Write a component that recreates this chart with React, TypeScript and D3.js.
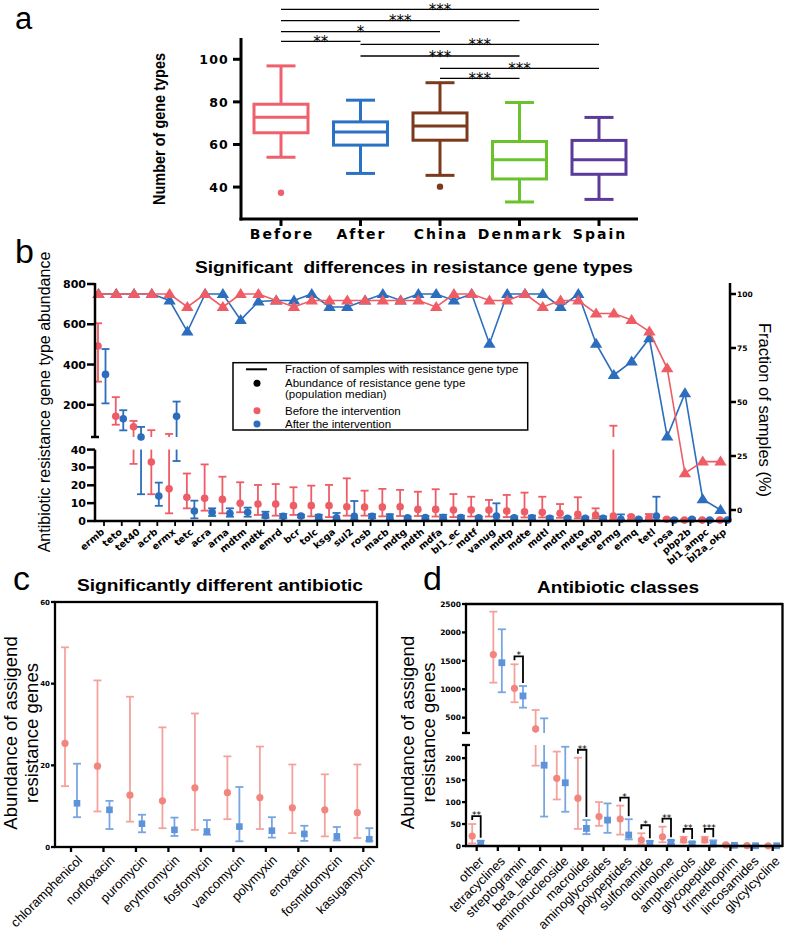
import React from "react";
import * as d3 from "d3";

const W = 787;
const H = 935;
const SANS = "Liberation Sans, Arial, sans-serif";
const WIDE = "DejaVu Sans, sans-serif";

// ---------------- Panel a ----------------
const groupsA = ["Before", "After", "China", "Denmark", "Spain"];
const whiskerLowA = [54, 46.4, 45.5, 33, 34.2];
const q1A = [65.5, 59.7, 62, 43.8, 46];
const medianA = [72.8, 65.9, 68.7, 52.8, 52.8];
const q3A = [78.9, 70.6, 74.8, 61.4, 61.9];
const whiskerHighA = [96.9, 80.8, 89, 79.7, 72.7];
const outliersA: number[][] = [[37.3], [], [40.2], [], []];
const colorsA = ["#f0606c", "#2a73c4", "#7b3a1c", "#6ac22c", "#5b3a9b"];
const yTicksA = [40, 60, 80, 100];
const sigPairsA = [[0, 4], [0, 3], [0, 2], [0, 1], [1, 4], [1, 3], [2, 4], [2, 3]];
const sigLabelsA = ["***", "***", "*", "**", "***", "***", "***", "***"];
const sigLevelYA = [9.3, 20.7, 31.7, 41.3, 44.3, 56, 68.3, 78.3];

// ---------------- Panel b ----------------
const genesB = ["ermb", "teto", "tet40", "acrb", "ermx", "tetc", "acra", "arna", "mdtm", "mdtk", "emrd", "bcr", "tolc", "ksga", "sul2", "rosb", "macb", "mdtg", "mdth", "mdfa", "bl1_ec", "mdtf", "vanug", "mdtp", "mdte", "mdtl", "mdtn", "mdto", "tetpb", "ermg", "ermq", "tetl", "rosa", "pbp2b", "bl1_ampc", "bl2a_okp"];
const fracBefore = [100, 100, 100, 100, 100, 94, 100, 94, 100, 100, 97, 94, 97, 97, 97, 97, 97, 97, 97, 94, 100, 100, 97, 97, 100, 94, 97, 97, 91, 91, 88, 82.6, 65.6, 17, 22.4, 22.4];
const fracAfter = [100, 100, 100, 100, 97, 82.6, 100, 100, 88, 96.5, 97, 97, 100, 94, 94, 97, 100, 97, 100, 100, 97, 100, 77, 100, 100, 100, 94, 100, 77, 62.5, 68.7, 79.5, 34, 54, 5, 0];
const medBefore = [492, 143, 91, 33, 18, 13.3, 12.7, 12.1, 9.9, 9.5, 9.5, 8.6, 8.6, 8.6, 8.0, 7.8, 7.8, 8.0, 6.5, 6.5, 6.2, 6.2, 6.2, 5.6, 5.2, 4.9, 4.3, 3.7, 3.4, 2.8, 2.4, 2.0, 1.0, 0.5, 0.5, 0.5];
const hiBefore = [605, 238, 120, 74, 55, 26.6, 31.7, 24.8, 21.7, 20.2, 20.7, 18.9, 19.8, 20.2, 23.9, 17, 18, 17.4, 16.4, 17.8, 15.1, 13.6, 11.8, 14.6, 15.9, 13.6, 9.5, 13.3, 7.1, 96, 3, 3.9, 1.5, 1, 1, 1];
const loBefore = [315, 101, 32, 15, 4.3, 7.1, 5.8, 4.3, 4.9, 3.4, 3, 3.4, 2.6, 2.2, 3, 3, 2.6, 2.8, 2.8, 2.5, 2.2, 2.5, 2.5, 2.2, 2, 2, 1.8, 1.5, 1.5, 1, 1, 1, 0.5, 0.3, 0.3, 0.3];
const medAfter = [351, 131, 40, 14, 143, 5.6, 4.9, 4.3, 4.9, 3, 2.6, 2.8, 2.2, 1.8, 2.6, 2.6, 2.2, 1.8, 2, 2, 2, 1.8, 2.8, 1.8, 1.8, 1.5, 1.5, 1.5, 1.5, 1, 1, 2.8, 0.5, 1, 0.5, 0.5];
const hiAfter = [477, 173, 90, 21.5, 216, 11.4, 7.1, 7.1, 7.5, 5.2, 4, 3.5, 3.5, 4.5, 11.2, 3.8, 3.8, 2.5, 2.8, 3.5, 3, 2.5, 9.9, 2.5, 3, 2.5, 2.2, 2.2, 2.5, 3.7, 1.5, 13.6, 1, 1.5, 1, 1];
const loAfter = [207, 73, 15, 8.5, 33.6, 1.5, 2.8, 2.4, 2.4, 1.8, 1.5, 2, 1, 0.8, 1, 1.5, 1, 1, 1, 1, 1, 1, 0.5, 1, 1, 0.8, 0.8, 0.8, 0.8, 0.5, 0.5, 0.5, 0.3, 0.5, 0.3, 0.3];
const upperTicksB = [200, 400, 600, 800];
const lowerTicksB = [0, 10, 20, 30, 40];
const rightTicksB = [0, 25, 50, 75, 100];
const legendB = ["Fraction of samples with resistance gene type", "Abundance of resistance gene type", "(population median)", "Before the intervention", "After the intervention"];

// ---------------- Panel c ----------------
const antibiotics = ["chloramphenicol", "norfloxacin", "puromycin", "erythromycin", "fosfomycin", "vancomycin", "polymyxin", "enoxacin", "fosmidomycin", "kasugamycin"];
const cBeforeMed = [25.4, 19.8, 12.7, 11.3, 14.5, 13.3, 12.1, 9.6, 9.1, 8.4];
const cBeforeHi = [48.9, 40.8, 36.8, 29.3, 32.7, 22.2, 24.6, 20.2, 17.8, 20.2];
const cBeforeLo = [14.9, 8.7, 6.2, 4.6, 4.2, 6.8, 4.4, 3.4, 2.6, 2.2];
const cAfterMed = [10.7, 9.1, 5.7, 4.2, 3.8, 5.0, 4.0, 3.2, 2.6, 1.9];
const cAfterHi = [20.4, 11.3, 7.9, 7.2, 6.6, 14.7, 7.3, 5.2, 4.9, 4.6];
const cAfterLo = [7.3, 4.4, 3.6, 2.7, 3.0, 1.4, 2.3, 1.5, 1.6, 1.5];
const yTicksC = [0, 20, 40, 60];

// ---------------- Panel d ----------------
const classes = ["other", "tetracyclines", "streptogramin", "beta_lactam", "aminonucleoside", "macrolide", "aminoglycosides", "polypeptides", "sulfonamide", "quinolone", "amphenicols", "glycopeptide", "trimethoprim", "lincosamides", "glycylcycline"];
const dBeforeMed = [22.8, 1610, 1017, 301, 154, 109, 67, 61.5, 13.7, 21, 13.7, 13.7, 2.5, 0.8, 0.5];
const dBeforeHi = [50, 2365, 1439, 635, 215, 201, 100, 92, 29, 44, 21, 21, 4, 1.5, 1];
const dBeforeLo = [6, 1116, 771, 183, 106, 39, 46, 26, 4, 8.5, 8, 8, 1, 0.3, 0.2];
const dAfterMed = [6, 1467, 882, 184, 144, 40, 59, 25, 6, 8.5, 5, 4.5, 1.5, 0.5, 0.5];
const dAfterHi = [12, 2055, 1057, 488, 226, 59, 97, 61, 11, 13, 9, 13, 3, 1, 1];
const dAfterLo = [1, 947, 676, 67, 78, 27, 30, 15, 1, 4, 1, 1, 0.5, 0.2, 0.2];
const sigIdxD = [0, 2, 5, 7, 8, 9, 10, 11];
const sigLblD = ["**", "*", "**", "*", "*", "**", "**", "***"];
const upperTicksD = [500, 1000, 1500, 2000, 2500];
const lowerTicksD = [0, 50, 100, 150, 200];

type Scale = (v: number) => number;

function yBroken(v: number, split: number, yU: Scale, yL: Scale) {
  return v >= split ? yU(v) : yL(v);
}
function brokenSegs(lo: number, hi: number, split: number, yU: Scale, yL: Scale): [number, number][] {
  if (hi <= split) return [[yL(lo), yL(hi)]];
  if (lo >= split) return [[yU(lo), yU(hi)]];
  return [[yL(lo), yL(split)], [yU(split), yU(hi)]];
}

function ErrBar(props: { x: number; segs: [number, number][]; yLo: number; yHi: number; color: string; cap?: number; sw?: number }) {
  const { x, segs, yLo, yHi, color } = props;
  const cap = props.cap ?? 8;
  const sw = props.sw ?? 1.8;
  return (
    <g stroke={color} strokeWidth={sw}>
      {segs.map((s, i) => (
        <line key={i} x1={x} x2={x} y1={s[0]} y2={s[1]} />
      ))}
      <line x1={x - cap / 2} x2={x + cap / 2} y1={yLo} y2={yLo} />
      <line x1={x - cap / 2} x2={x + cap / 2} y1={yHi} y2={yHi} />
    </g>
  );
}

function PanelA() {
  const x = d3.scalePoint<string>().domain(groupsA).range([281, 599]);
  const y = d3.scaleLinear().domain([25, 110]).range([219, 38]);
  const boxW = 54;
  const capW = 29;
  return (
    <g>
      <text x={15} y={29} fontFamily={SANS} fontSize={31}>a</text>
      {sigPairsA.map((p, i) => {
        const x1 = x(groupsA[p[0]])!;
        const x2 = x(groupsA[p[1]])!;
        const ly = sigLevelYA[i];
        return (
          <g key={i}>
            <line x1={x1} x2={x2} y1={ly} y2={ly} stroke="#000" strokeWidth={1.3} />
            <text x={(x1 + x2) / 2} y={ly + 5.5} textAnchor="middle" fontFamily={WIDE} fontSize={15}>{sigLabelsA[i]}</text>
          </g>
        );
      })}
      {groupsA.map((g, i) => {
        const cx = x(g)!;
        const c = colorsA[i];
        return (
          <g key={g} stroke={c} strokeWidth={3} fill="none">
            <line x1={cx} x2={cx} y1={y(whiskerHighA[i])} y2={y(q3A[i])} />
            <line x1={cx} x2={cx} y1={y(q1A[i])} y2={y(whiskerLowA[i])} />
            <line x1={cx - capW / 2} x2={cx + capW / 2} y1={y(whiskerHighA[i])} y2={y(whiskerHighA[i])} />
            <line x1={cx - capW / 2} x2={cx + capW / 2} y1={y(whiskerLowA[i])} y2={y(whiskerLowA[i])} />
            <rect x={cx - boxW / 2} y={y(q3A[i])} width={boxW} height={y(q1A[i]) - y(q3A[i])} />
            <line x1={cx - boxW / 2} x2={cx + boxW / 2} y1={y(medianA[i])} y2={y(medianA[i])} />
            {outliersA[i].map((o, k) => (
              <circle key={k} cx={cx} cy={y(o)} r={3.2} fill={c} stroke="none" />
            ))}
          </g>
        );
      })}
      <g stroke="#000" strokeWidth={3}>
        <line x1={241} x2={241} y1={38} y2={220.5} />
        <line x1={239.5} x2={638} y1={219} y2={219} />
        {yTicksA.map((t) => (
          <line key={t} x1={233} x2={241} y1={y(t)} y2={y(t)} />
        ))}
        {groupsA.map((g) => (
          <line key={g} x1={x(g)!} x2={x(g)!} y1={219} y2={226} />
        ))}
      </g>
      {yTicksA.map((t) => (
        <text key={t} x={229} y={y(t) + 4.8} textAnchor="end" fontFamily={WIDE} fontWeight="bold" fontSize={12.5} letterSpacing={1.2}>{t}</text>
      ))}
      {groupsA.map((g) => (
        <text key={g} x={x(g)! + 1} y={238.5} textAnchor="middle" fontFamily={WIDE} fontWeight="bold" fontSize={14} letterSpacing={2}>{g}</text>
      ))}
      <text transform="translate(165,129) rotate(-90)" textAnchor="middle" fontFamily={SANS} fontWeight="bold" fontSize={17} textLength={152} lengthAdjust="spacingAndGlyphs">Number of gene types</text>
    </g>
  );
}

function tri(x: number, y: number) {
  return `M${x},${y - 6} L${x + 6.2},${y + 4} L${x - 6.2},${y + 4} Z`;
}

function PanelB() {
  const xt = d3.scalePoint<string>().domain(genesB).range([104, 726]);
  const yU = d3.scaleLinear().domain([40, 800]).range([437, 284]);
  const yL = d3.scaleLinear().domain([0, 40]).range([521, 449.6]);
  const yR = d3.scaleLinear().domain([0, 100]).range([510, 294]);
  const red = "#ee5c66";
  const blue = "#2c6dbd";
  const xTri = (g: string) => xt(g)! - 5.5;
  const lineGen = (vals: number[]) =>
    d3.line<number>().x((_, i) => xTri(genesB[i])).y((v) => yR(v))(vals) || "";
  return (
    <g>
      <text x={15} y={263} fontFamily={SANS} fontSize={34}>b</text>
      <text x={414} y={273} textAnchor="middle" fontFamily={SANS} fontWeight="bold" fontSize={17} textLength={438} lengthAdjust="spacingAndGlyphs" style={{ whiteSpace: "pre" }}>{"Significant  differences in resistance gene types"}</text>
      <path d={lineGen(fracAfter)} fill="none" stroke={blue} strokeWidth={1.6} />
      {fracAfter.map((v, i) => (
        <path key={"ta" + i} d={tri(xTri(genesB[i]), yR(v))} fill={blue} />
      ))}
      <path d={lineGen(fracBefore)} fill="none" stroke={red} strokeWidth={1.6} />
      {fracBefore.map((v, i) => (
        <path key={"tb" + i} d={tri(xTri(genesB[i]), yR(v))} fill={red} />
      ))}
      {genesB.map((g, i) => {
        const xr = xt(g)! - 6;
        return (
          <g key={"rb" + g}>
            <ErrBar x={xr} segs={brokenSegs(loBefore[i], hiBefore[i], 40, yU, yL)} yLo={yBroken(loBefore[i], 40, yU, yL)} yHi={yBroken(hiBefore[i], 40, yU, yL)} color={red} />
            <circle cx={xr} cy={yBroken(medBefore[i], 40, yU, yL)} r={3.8} fill={red} />
          </g>
        );
      })}
      {genesB.map((g, i) => {
        const xb = xt(g)! + 1.5;
        return (
          <g key={"bb" + g}>
            <ErrBar x={xb} segs={brokenSegs(loAfter[i], hiAfter[i], 40, yU, yL)} yLo={yBroken(loAfter[i], 40, yU, yL)} yHi={yBroken(hiAfter[i], 40, yU, yL)} color={blue} />
            <circle cx={xb} cy={yBroken(medAfter[i], 40, yU, yL)} r={3.8} fill={blue} />
          </g>
        );
      })}
      <g stroke="#000" strokeWidth={2.5}>
        <line x1={95} x2={95} y1={283} y2={437} />
        <line x1={91} x2={99} y1={437} y2={437} />
        <line x1={95} x2={95} y1={449.6} y2={522} />
        <line x1={94} x2={731} y1={521} y2={521} />
        <line x1={730} x2={730} y1={283} y2={522} />
        {upperTicksB.map((t) => (
          <line key={t} x1={87} x2={95} y1={yU(t)} y2={yU(t)} />
        ))}
        {lowerTicksB.map((t) => (
          <line key={t} x1={87} x2={95} y1={yL(t)} y2={yL(t)} />
        ))}
        {rightTicksB.map((t) => (
          <line key={t} x1={730} x2={736} y1={yR(t)} y2={yR(t)} />
        ))}
        {genesB.map((g) => (
          <line key={g} x1={xt(g)!} x2={xt(g)!} y1={521} y2={526} strokeWidth={1.8} />
        ))}
      </g>
      {upperTicksB.map((t) => (
        <text key={t} x={86} y={yU(t) + 4} textAnchor="end" fontFamily={WIDE} fontWeight="bold" fontSize={11}>{t}</text>
      ))}
      {lowerTicksB.map((t) => (
        <text key={t} x={86} y={yL(t) + 4} textAnchor="end" fontFamily={WIDE} fontWeight="bold" fontSize={11}>{t}</text>
      ))}
      {rightTicksB.map((t) => (
        <text key={t} x={737} y={yR(t) + 3} fontFamily={WIDE} fontWeight="bold" fontSize={7.5}>{t}</text>
      ))}
      {genesB.map((g) => (
        <text key={g} transform={`translate(${xt(g)! + 1},${533}) rotate(-40)`} textAnchor="end" fontFamily={WIDE} fontWeight="bold" fontSize={9.5}>{g}</text>
      ))}
      <text transform="translate(50,402) rotate(-90)" textAnchor="middle" fontFamily={SANS} fontSize={16}>Antibiotic resistance gene type abundance</text>
      <text transform="translate(759,410) rotate(90)" textAnchor="middle" fontFamily={SANS} fontSize={16.5}>Fraction of samples (%)</text>
      <rect x={233} y={362.7} width={294.7} height={67.3} fill="#fff" stroke="#000" strokeWidth={1.5} />
      <line x1={246} x2={267} y1={369.3} y2={369.3} stroke="#000" strokeWidth={2} />
      <circle cx={257} cy={383.3} r={3.5} fill="#000" />
      <circle cx={257} cy={410.7} r={3.5} fill={red} />
      <circle cx={257} cy={424} r={3.5} fill={blue} />
      {[373, 387, 397.5, 415, 428].map((yy, i) => (
        <text key={i} x={285} y={yy} fontFamily={SANS} fontSize={11.5}>{legendB[i]}</text>
      ))}
    </g>
  );
}

function PanelC() {
  const xt = d3.scalePoint<string>().domain(antibiotics).range([71, 363.3]);
  const y = d3.scaleLinear().domain([0, 60]).range([847, 602]);
  const redBar = "#f4a29d";
  const redDot = "#f2857e";
  const blueBar = "#78a6e2";
  const blueDot = "#5d93d9";
  return (
    <g>
      <text x={13} y={590} fontFamily={SANS} fontSize={34}>c</text>
      <text x={220} y={591} textAnchor="middle" fontFamily={SANS} fontWeight="bold" fontSize={17} textLength={286} lengthAdjust="spacingAndGlyphs">Significantly different antibiotic</text>
      {antibiotics.map((a, i) => {
        const xr = xt(a)! - 6;
        const xb = xt(a)! + 6;
        return (
          <g key={a}>
            <ErrBar x={xr} segs={[[y(cBeforeLo[i]), y(cBeforeHi[i])]]} yLo={y(cBeforeLo[i])} yHi={y(cBeforeHi[i])} color={redBar} sw={1.8} />
            <circle cx={xr} cy={y(cBeforeMed[i])} r={3.6} fill={redDot} />
            <ErrBar x={xb} segs={[[y(cAfterLo[i]), y(cAfterHi[i])]]} yLo={y(cAfterLo[i])} yHi={y(cAfterHi[i])} color={blueBar} sw={1.8} />
            <rect x={xb - 3.3} y={y(cAfterMed[i]) - 3.3} width={6.6} height={6.6} fill={blueDot} />
          </g>
        );
      })}
      <g stroke="#000" strokeWidth={2.3} fill="none">
        <rect x={55} y={602} width={322} height={245} />
        {yTicksC.map((t) => (
          <line key={t} x1={51} x2={55} y1={y(t)} y2={y(t)} />
        ))}
        {antibiotics.map((a) => (
          <line key={a} x1={xt(a)!} x2={xt(a)!} y1={847} y2={852} />
        ))}
      </g>
      {yTicksC.map((t) => (
        <text key={t} x={50} y={y(t) + 2.5} textAnchor="end" fontFamily={WIDE} fontWeight="bold" fontSize={7}>{t}</text>
      ))}
      {antibiotics.map((a) => (
        <text key={a} transform={`translate(${xt(a)! + 12},${861}) rotate(-45)`} textAnchor="end" fontFamily={SANS} fontSize={13}>{a}</text>
      ))}
      <text transform="translate(17,733) rotate(-90)" textAnchor="middle" fontFamily={SANS} fontSize={18.5}>Abundance of assigend</text>
      <text transform="translate(38,733) rotate(-90)" textAnchor="middle" fontFamily={SANS} fontSize={18.5}>resistance genes</text>
    </g>
  );
}

function PanelD() {
  const xt = d3.scalePoint<string>().domain(classes).range([476.7, 772.7]);
  const yU = d3.scaleLinear().domain([230, 2500]).range([733, 604]);
  const yL = d3.scaleLinear().domain([0, 230]).range([846, 745]);
  const yb = (v: number) => yBroken(v, 230, yU, yL);
  const redBar = "#f4a29d";
  const redDot = "#f2857e";
  const blueBar = "#78a6e2";
  const blueDot = "#5d93d9";
  return (
    <g>
      <text x={423} y={590} fontFamily={SANS} fontSize={34}>d</text>
      <text x={618} y={593} textAnchor="middle" fontFamily={SANS} fontWeight="bold" fontSize={17} textLength={162} lengthAdjust="spacingAndGlyphs">Antibiotic classes</text>
      {classes.map((c, i) => {
        const xr = xt(c)! - 4.5;
        const xb = xt(c)! + 4;
        return (
          <g key={c}>
            <ErrBar x={xr} segs={brokenSegs(dBeforeLo[i], dBeforeHi[i], 230, yU, yL)} yLo={yb(dBeforeLo[i])} yHi={yb(dBeforeHi[i])} color={redBar} sw={1.8} />
            <circle cx={xr} cy={yb(dBeforeMed[i])} r={3.6} fill={redDot} />
            <ErrBar x={xb} segs={brokenSegs(dAfterLo[i], dAfterHi[i], 230, yU, yL)} yLo={yb(dAfterLo[i])} yHi={yb(dAfterHi[i])} color={blueBar} sw={1.8} />
            <rect x={xb - 3.4} y={yb(dAfterMed[i]) - 3.4} width={6.8} height={6.8} fill={blueDot} />
          </g>
        );
      })}
      {sigIdxD.map((idx, k) => {
        const c = classes[idx];
        const xr = xt(c)! - 4.5;
        const xb = xt(c)! + 4;
        const top = yb(dBeforeHi[idx]) - 8;
        const leftEnd = yb(dBeforeHi[idx]) - 4;
        const rightEnd = yb(dAfterHi[idx]) - 3;
        return (
          <g key={"s" + idx}>
            <path d={`M${xr},${leftEnd} L${xr},${top} L${xb},${top} L${xb},${rightEnd}`} fill="none" stroke="#000" strokeWidth={1.8} />
            <text x={(xr + xb) / 2} y={top + 2} textAnchor="middle" fontFamily={WIDE} fontSize={9}>{sigLblD[k]}</text>
          </g>
        );
      })}
      <g stroke="#000" strokeWidth={2.3} fill="none">
        <line x1={466} x2={466} y1={603} y2={733} />
        <line x1={462} x2={470} y1={733} y2={733} />
        <line x1={466} x2={466} y1={745} y2={847} />
        <line x1={462} x2={470} y1={745} y2={745} />
        <line x1={465} x2={783} y1={846} y2={846} />
        <line x1={465} x2={783} y1={604} y2={604} />
        <line x1={782.5} x2={782.5} y1={603} y2={847} />
        {upperTicksD.map((t) => (
          <line key={t} x1={462} x2={466} y1={yU(t)} y2={yU(t)} />
        ))}
        {lowerTicksD.map((t) => (
          <line key={t} x1={462} x2={466} y1={yL(t)} y2={yL(t)} />
        ))}
        {classes.map((c) => (
          <line key={c} x1={xt(c)!} x2={xt(c)!} y1={846} y2={851} />
        ))}
      </g>
      {upperTicksD.map((t) => (
        <text key={t} x={461} y={yU(t) + 2.7} textAnchor="end" fontFamily={WIDE} fontWeight="bold" fontSize={7.5}>{t}</text>
      ))}
      {lowerTicksD.map((t) => (
        <text key={t} x={461} y={yL(t) + 2.7} textAnchor="end" fontFamily={WIDE} fontWeight="bold" fontSize={7.5}>{t}</text>
      ))}
      {classes.map((c) => (
        <text key={c} transform={`translate(${xt(c)! + 8},${862}) rotate(-45)`} textAnchor="end" fontFamily={SANS} fontSize={13}>{c}</text>
      ))}
      <text transform="translate(413.5,732.5) rotate(-90)" textAnchor="middle" fontFamily={SANS} fontSize={18.5}>Abundance of assigend</text>
      <text transform="translate(434.5,732.5) rotate(-90)" textAnchor="middle" fontFamily={SANS} fontSize={18.5}>resistance genes</text>
    </g>
  );
}

export default function App() {
  return (
    <svg width={W} height={H} viewBox={`0 0 ${W} ${H}`} style={{ position: "absolute", left: 0, top: 0, display: "block", background: "#fff" }}>
      <rect width={W} height={H} fill="#fff" />
      <PanelA />
      <PanelB />
      <PanelC />
      <PanelD />
    </svg>
  );
}
